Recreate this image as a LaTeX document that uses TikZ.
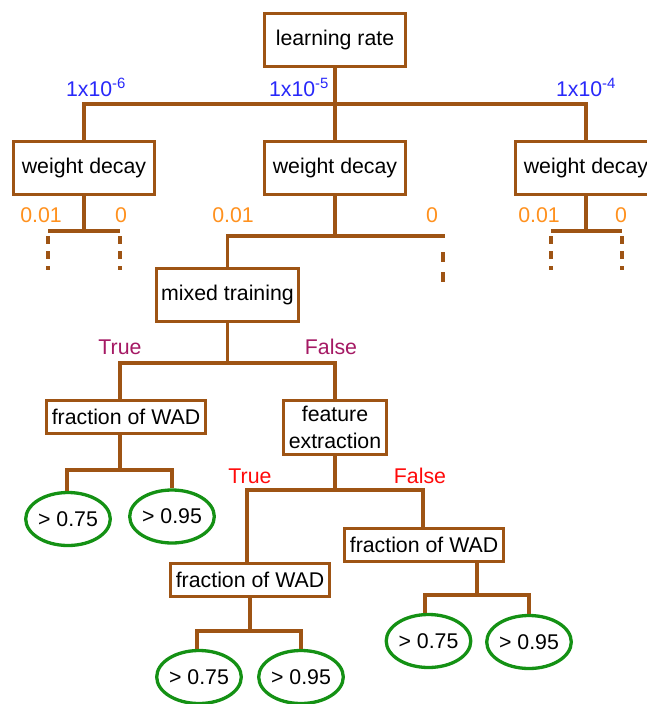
\documentclass[tikz,border=0pt]{standalone}
\usepackage{fontspec}
\setmainfont{Liberation Sans}
\usetikzlibrary{shapes.geometric}
\definecolor{brn}{RGB}{158,84,20}
\definecolor{grn}{RGB}{20,145,20}
\definecolor{lrblue}{RGB}{40,40,250}
\definecolor{wdorange}{RGB}{255,145,30}
\definecolor{mtpurple}{RGB}{165,25,100}
\definecolor{fered}{RGB}{255,10,10}
\begin{document}
\begin{tikzpicture}[x=1pt,y=-1pt,
  every node/.style={font=\fontsize{21.3}{26.7}\selectfont, inner sep=0pt},
  box/.style={draw=brn, line width=3.3pt, rectangle, fill=white, align=center},
  leaf/.style={draw=grn, line width=3.3pt, ellipse, minimum width=84.5pt, minimum height=53pt},
  fwbox/.style={box, minimum width=158.5pt, minimum height=32.5pt},
  wdbox/.style={box, minimum width=141.5pt, minimum height=52.5pt},
  conn/.style={draw=brn, line width=3.3pt},
  dsh/.style={conn, dash pattern=on 8pt off 7pt},
  lrlab/.style={text=lrblue, anchor=base},
  wdlab/.style={text=wdorange, anchor=base},
  mtlab/.style={text=mtpurple, anchor=base},
  felab/.style={text=fered, anchor=base}]
\clip (0,0) rectangle (647,704);
\fill[white] (0,0) rectangle (647,704);

% nodes
\node[wdbox] (lr) at (335,40) {learning rate};
\node[wdbox] (wd1) at (84,168) {weight decay};
\node[wdbox] (wd2) at (335,168) {weight decay};
\node[wdbox] (wd3) at (586,168) {weight decay};
\node[box, minimum width=142pt, minimum height=52.5pt] (mix) at (227.5,295) {mixed training};
\node[fwbox] (fw1) at (126,417) {fraction of WAD};
\node[box, minimum width=102.5pt, minimum height=53.5pt] (fe) at (335,427.5) {feature\\extraction};
\node[fwbox] (fw3) at (424,545) {fraction of WAD};
\node[fwbox] (fw2) at (250,580) {fraction of WAD};
\node[leaf] (e1) at (68,519) {> 0.75};
\node[leaf] (e2) at (172,516.5) {> 0.95};
\node[leaf] (e3) at (428.5,641) {> 0.75};
\node[leaf] (e4) at (529,642) {> 0.95};
\node[leaf] (e5) at (199,677) {> 0.75};
\node[leaf] (e6) at (301,677) {> 0.95};

% labels
\node[lrlab] (l1) at (96,96) {1x10\textsuperscript{-6}};
\node[lrlab] (l2) at (299,96) {1x10\textsuperscript{-5}};
\node[lrlab] (l3) at (586,96) {1x10\textsuperscript{-4}};
\node[wdlab] (a1) at (41,222) {0.01};
\node[wdlab] (a2) at (121,222) {0};
\node[wdlab] (a3) at (233,222) {0.01};
\node[wdlab] (a4) at (432,222) {0};
\node[wdlab] (a5) at (539,222) {0.01};
\node[wdlab] (a6) at (621,222) {0};
\node[mtlab] (t1) at (120,354) {True};
\node[mtlab] (f1) at (331,354) {False};
\node[felab] (t2) at (250,483) {True};
\node[felab] (f2) at (420,483) {False};

% junction coordinates
\coordinate (h1) at (335,104);
\coordinate (w1L) at (48,231);
\coordinate (w1R) at (120,231);
\coordinate (w2L) at (226,236);
\coordinate (w2R) at (445,236);
\coordinate (w2D) at (443,252);
\coordinate (w3L) at (551,231);
\coordinate (w3R) at (622,231);
\coordinate (mL) at (120,363);
\coordinate (mR) at (335,363);
\coordinate (p1L) at (67,470);
\coordinate (p1R) at (172,470);
\coordinate (qL) at (247,490);
\coordinate (qR) at (423,490);
\coordinate (r2L) at (197,631);
\coordinate (r2R) at (301,631);
\coordinate (r3L) at (425,595);
\coordinate (r3R) at (529,595);

% connectors
\draw[conn] (lr.south) -- (wd2.north);
\draw[conn] (wd1.north) |- (h1) -| (wd3.north);

\draw[conn] (wd1.south) -- (wd1.south |- w1L);
\draw[conn] (w1L) -- (w1R);
\draw[dsh] ([yshift=-5pt]w1L) -- ++(0,34);
\draw[dsh] ([yshift=-5pt]w1R) -- ++(0,34);

\draw[conn] (wd2.south) -- (wd2.south |- w2L);
\draw[conn] (mix.north) |- (w2R);
\draw[conn, dash pattern=on 10pt off 10pt] (w2D) -- ++(0,31);

\draw[conn] (wd3.south) -- (wd3.south |- w3L);
\draw[conn] (w3L) -- (w3R);
\draw[dsh] ([yshift=-5pt]w3L) -- ++(0,34);
\draw[dsh] ([yshift=-5pt]w3R) -- ++(0,34);

\draw[conn] (mix.south) -- (mix.south |- mL);
\draw[conn] (mL |- fw1.north) -- (mL) -- (mR) -- (fe.north);

\draw[conn] (mL |- fw1.south) -- (mL |- p1L);
\draw[conn] (p1L |- e1.north) -- (p1L) -- (p1R) -- (p1R |- e2.north);

\draw[conn] (fe.south) -- (fe.south |- qL);
\draw[conn] (qL |- fw2.north) -- (qL) -- (qR) -- (qR |- fw3.north);

\draw[conn] (fw2.south) -- (fw2.south |- r2L);
\draw[conn] (r2L |- e5.north) -- (r2L) -- (r2R) -- (r2R |- e6.north);

\draw[conn] (477,562) -- (477,595);
\draw[conn] (r3L |- e3.north) -- (r3L) -- (r3R) -- (r3R |- e4.north);
\end{tikzpicture}
\end{document}
